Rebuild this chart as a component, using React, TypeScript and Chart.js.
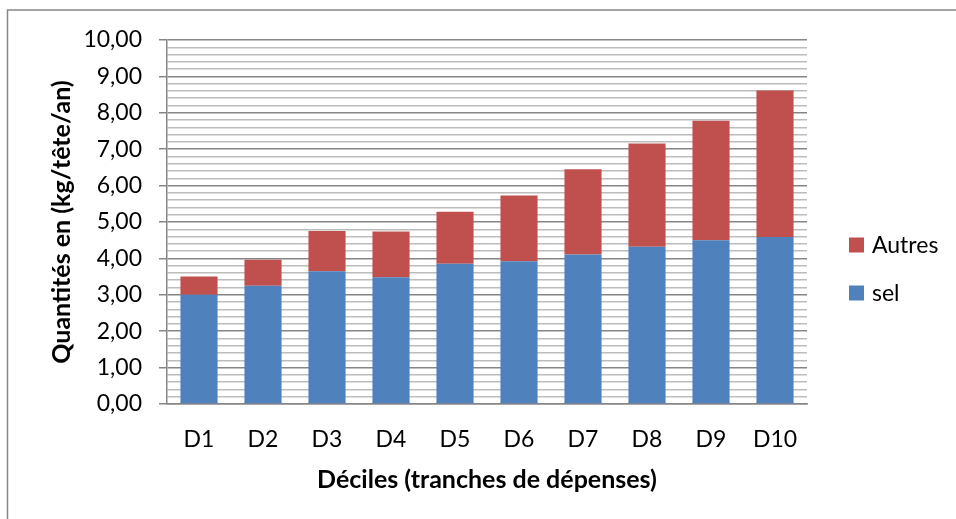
import React, { useEffect, useRef } from "react";
import { Chart, registerables } from "chart.js";

Chart.register(...registerables);

const categories = ["D1", "D2", "D3", "D4", "D5", "D6", "D7", "D8", "D9", "D10"];
const selValues = [3.0, 3.25, 3.65, 3.48, 3.85, 3.92, 4.11, 4.32, 4.5, 4.59];
const autresValues = [0.5, 0.71, 1.1, 1.26, 1.43, 1.81, 2.34, 2.84, 3.28, 4.02];
const seriesNames = ["sel", "Autres"];
const yTitle = "Quantités en (kg/tête/an)";
const xTitle = "Déciles (tranches de dépenses)";

const FONT = "Lato";
const BLUE = "#4F81BD";
const RED = "#C0504D";
const MAJOR = "#868686";
const MINOR = "#bcbcbc";

const isMajor = (v: number) => Math.abs(v - Math.round(v)) < 1e-6;

const framePlugin = {
  id: "frame",
  beforeDraw(chart: any) {
    const ctx = chart.ctx;
    ctx.save();
    ctx.strokeStyle = MAJOR;
    ctx.lineWidth = 1.5;
    ctx.beginPath();
    ctx.moveTo(7.5, chart.height);
    ctx.lineTo(7.5, 10);
    ctx.lineTo(chart.width, 10);
    ctx.stroke();
    ctx.restore();
  },
};

const legendPlugin = {
  id: "customLegend",
  afterDraw(chart: any) {
    const ctx = chart.ctx;
    const area = chart.chartArea;
    const items = chart.data.datasets.map((d: any) => ({ label: d.label, color: d.backgroundColor })).reverse();
    const x = area.right + 42;
    const y0 = 245;
    const gap = 48;
    ctx.save();
    ctx.font = `23px ${FONT}`;
    ctx.textBaseline = "middle";
    ctx.textAlign = "left";
    items.forEach((it: any, i: number) => {
      const cy = y0 + i * gap;
      ctx.fillStyle = it.color;
      ctx.fillRect(x, cy - 7.5, 15, 15);
      ctx.fillStyle = "#000";
      ctx.fillText(it.label, x + 23, cy + 1);
    });
    ctx.restore();
  },
};

export default function App() {
  const ref = useRef<HTMLCanvasElement | null>(null);

  useEffect(() => {
    document.body.style.margin = "0";
    const canvas = ref.current;
    if (!canvas) return;
    const chart = new Chart(canvas, {
      type: "bar",
      data: {
        labels: categories,
        datasets: [
          {
            label: seriesNames[0],
            data: selValues,
            backgroundColor: BLUE,
            categoryPercentage: 1,
            barPercentage: 0.58,
          },
          {
            label: seriesNames[1],
            data: autresValues,
            backgroundColor: RED,
            categoryPercentage: 1,
            barPercentage: 0.58,
          },
        ],
      },
      options: {
        animation: false,
        responsive: false,
        maintainAspectRatio: false,
        devicePixelRatio: 1,
        layout: { padding: { top: 40, right: 149, bottom: 0, left: 0 } },
        plugins: {
          legend: { display: false },
          tooltip: { enabled: false },
        },
        scales: {
          x: {
            stacked: true,
            grid: { display: false, drawTicks: false },
            border: { display: true, color: MAJOR, width: 1.5 },
            ticks: {
              color: "#000",
              font: { family: FONT, size: 23 },
              padding: 22,
              maxRotation: 0,
              autoSkip: false,
            },
            title: {
              display: true,
              text: xTitle,
              color: "#000",
              font: { family: FONT, size: 25, weight: "bold" },
              padding: { top: 0, bottom: 24 },
            },
            afterFit(scale: any) {
              scale.height = 115;
            },
          },
          y: {
            stacked: true,
            min: 0,
            max: 10,
            grid: {
              color: (c: any) => (c.tick && isMajor(c.tick.value) ? MAJOR : MINOR),
              tickColor: (c: any) => (c.tick && isMajor(c.tick.value) ? MAJOR : "rgba(0,0,0,0)"),
              lineWidth: 1.5,
              tickLength: 8,
            },
            border: { display: true, color: MAJOR, width: 1.5 },
            ticks: {
              stepSize: 0.2,
              autoSkip: false,
              color: "#000",
              font: { family: FONT, size: 23 },
              padding: 17,
              callback: (v: any) => (isMajor(Number(v)) ? Number(v).toFixed(2).replace(".", ",") : ""),
            },
            title: {
              display: true,
              text: yTitle,
              color: "#000",
              font: { family: FONT, size: 25, weight: "bold" },
              padding: { top: 47, bottom: 0 },
            },
            afterFit(scale: any) {
              scale.width = 167;
            },
          },
        },
      },
      plugins: [framePlugin, legendPlugin],
    });
    return () => chart.destroy();
  }, []);

  return <canvas ref={ref} width={956} height={519} style={{ display: "block" }} />;
}
